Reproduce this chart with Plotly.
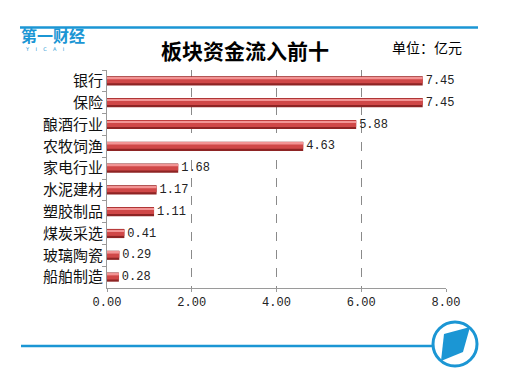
import plotly.graph_objects as go

categories = ["银行", "保险", "酿酒行业", "农牧饲渔", "家电行业", "水泥建材", "塑胶制品", "煤炭采选", "玻璃陶瓷", "船舶制造"]
values = [7.45, 7.45, 5.88, 4.63, 1.68, 1.17, 1.11, 0.41, 0.29, 0.28]
tick_vals = [0, 2, 4, 6, 8]
tick_text = ["0.00", "2.00", "4.00", "6.00", "8.00"]
title_text = "板块资金流入前十"
unit_text = "单位：亿元"

W, H = 505, 386
ML, MR, MT, MB = 107, 59, 70, 98
PW, PH = W - ML - MR, H - MT - MB


def px(x):
    return (x - ML) / PW


def py(y):
    return (H - MB - y) / PH


BLUE = "#1B96D4"
CJK = "Noto Sans CJK SC"
NUMF = "Liberation Mono"

fig = go.Figure()
fig.add_trace(go.Bar(y=categories, x=values, orientation="h", width=0.42, offset=-0.21,
                     marker=dict(color="#8E2424", line=dict(width=0)),
                     text=[f"{v:.2f}" for v in values], textposition="outside",
                     constraintext="none",
                     textfont=dict(family=NUMF, size=12, color="#222"),
                     cliponaxis=False, hoverinfo="skip"))
fig.add_trace(go.Bar(y=categories, x=values, orientation="h", width=0.30, offset=-0.19,
                     marker=dict(color="#D04848", line=dict(width=0)), hoverinfo="skip"))
fig.add_trace(go.Bar(y=categories, x=values, orientation="h", width=0.08, offset=-0.16,
                     marker=dict(color="#F29494", line=dict(width=0)), hoverinfo="skip"))

fig.update_layout(
    width=W, height=H, margin=dict(l=ML, r=MR, t=MT, b=MB, autoexpand=False),
    paper_bgcolor="white", plot_bgcolor="white", barmode="overlay",
    showlegend=False, bargap=0.6,
    xaxis=dict(range=[0, 8], tickvals=tick_vals, ticktext=tick_text, automargin=False,
               showgrid=True, gridcolor="#8a8a8a", griddash="dash", gridwidth=1,
               showline=True, linecolor="#9a9a9a", linewidth=1,
               ticks="outside", ticklen=3, tickcolor="#9a9a9a",
               tickfont=dict(family=NUMF, size=12, color="#222"), zeroline=False),
    yaxis=dict(autorange="reversed", showline=True, linecolor="#9a9a9a", linewidth=1,
               automargin=False,
               ticks="outside", ticklen=4, tickcolor="#9a9a9a", tickson="boundaries",
               tickfont=dict(family=CJK, size=15, color="#111"), showgrid=False),
)

shapes = []
shapes.append(dict(type="line", xref="paper", yref="paper", x0=px(20), x1=px(478), y0=py(27.5), y1=py(27.5),
                   line=dict(color=BLUE, width=2.5)))
shapes.append(dict(type="line", xref="paper", yref="paper", x0=px(21), x1=px(432), y0=py(346), y1=py(346),
                   line=dict(color=BLUE, width=2.5)))
cx, cy, r = 455, 344, 22
shapes.append(dict(type="circle", xref="paper", yref="paper", x0=px(cx - r), x1=px(cx + r),
                   y0=py(cy + r), y1=py(cy - r), line=dict(color=BLUE, width=3), fillcolor="white"))
pts = [(444, 334), (470, 327), (463, 352), (441, 361)]
path = "M " + " L ".join(f"{px(a):.4f},{py(b):.4f}" for a, b in pts) + " Z"
shapes.append(dict(type="path", xref="paper", yref="paper", path=path, fillcolor=BLUE, line=dict(width=0)))
fig.update_layout(shapes=shapes)

ann = []
ann.append(dict(text=f"<b>{title_text}</b>", x=px(245), y=py(50), xref="paper", yref="paper",
                showarrow=False, font=dict(family=CJK, size=21, color="#000"), xanchor="center", yanchor="middle"))
ann.append(dict(text=unit_text, x=px(390), y=py(47), xref="paper", yref="paper",
                showarrow=False, font=dict(family=CJK, size=14, color="#000"), xanchor="left", yanchor="middle"))
ann.append(dict(text="<b>第一财经</b>", x=px(19), y=py(35), xref="paper", yref="paper",
                showarrow=False, font=dict(family=CJK, size=16, color=BLUE), xanchor="left", yanchor="middle"))
ann.append(dict(text="Y&nbsp;&nbsp;&nbsp;&nbsp;I&nbsp;&nbsp;&nbsp;&nbsp;C&nbsp;&nbsp;&nbsp;&nbsp;A&nbsp;&nbsp;&nbsp;&nbsp;I",
                x=px(23), y=py(49.5), xref="paper", yref="paper",
                showarrow=False, font=dict(family="DejaVu Sans", size=5, color=BLUE), xanchor="left", yanchor="middle"))
fig.update_layout(annotations=ann)

fig.write_html("out.html", config={"displayModeBar": False},
               post_script="document.body.style.margin='0px';")
